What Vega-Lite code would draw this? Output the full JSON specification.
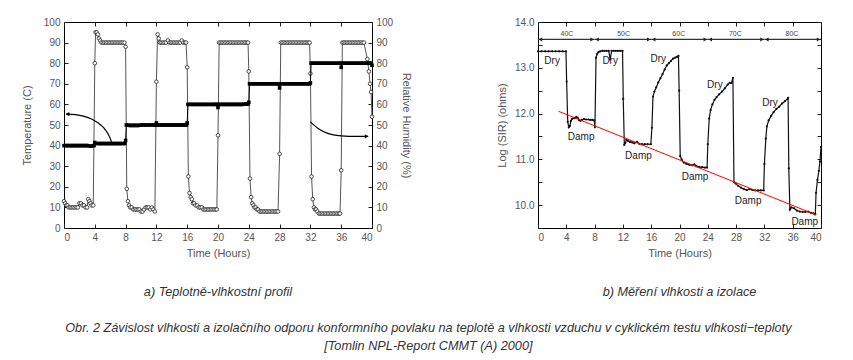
{
  "$schema": "https://vega.github.io/schema/vega-lite/v6.json",
  "autosize": {"type": "pad"},
  "padding": {"left": 20, "top": 16, "right": 5, "bottom": 5},
  "bounds": "flush",
  "spacing": 166,
  "background": "white",
  "title": {
    "text": ["Obr. 2  Závislost vlhkosti a izolačního odporu konformního povlaku na teplotě a vlhkosti vzduchu v cyklickém testu vlhkosti−teploty", "[Tomlin NPL-Report CMMT (A) 2000]"],
    "orient": "bottom", "anchor": "middle", "font": "Liberation Sans", "fontSize": 12.7, "fontStyle": "italic", "fontWeight": "normal", "color": "#333", "offset": 23, "lineHeight": 18, "dx": 6
  },
  "datasets": {
    "humidity": [
      {"t":0,"rh":13},{"t":0.15,"rh":12},{"t":0.3,"rh":11},{"t":0.45,"rh":11},{"t":0.6,"rh":10},{"t":0.8,"rh":10},{"t":1.0,"rh":10},{"t":1.2,"rh":10},{"t":1.4,"rh":10},{"t":1.6,"rh":10},{"t":1.8,"rh":10},{"t":2.0,"rh":12},{"t":2.2,"rh":12},{"t":2.4,"rh":11},{"t":2.6,"rh":11},{"t":2.8,"rh":10},{"t":3.0,"rh":10},{"t":3.15,"rh":14},{"t":3.3,"rh":13},{"t":3.45,"rh":12},{"t":3.6,"rh":11},{"t":3.8,"rh":11},
      {"t":4.0,"rh":80},{"t":4.1,"rh":95},{"t":4.25,"rh":95},{"t":4.4,"rh":94},{"t":4.55,"rh":92},{"t":4.7,"rh":91},{"t":4.85,"rh":90},{"t":5.05,"rh":90},{"t":5.25,"rh":90},{"t":5.45,"rh":90},{"t":5.65,"rh":90},{"t":5.85,"rh":90},{"t":6.05,"rh":90},{"t":6.25,"rh":90},{"t":6.45,"rh":90},{"t":6.65,"rh":90},{"t":6.85,"rh":90},{"t":7.05,"rh":90},{"t":7.25,"rh":90},{"t":7.45,"rh":90},{"t":7.65,"rh":90},{"t":7.85,"rh":90},
      {"t":8.0,"rh":88},{"t":8.15,"rh":19},{"t":8.3,"rh":13},{"t":8.45,"rh":11},{"t":8.6,"rh":10},{"t":8.8,"rh":10},{"t":9.0,"rh":9},{"t":9.2,"rh":9},{"t":9.4,"rh":9},{"t":9.6,"rh":9},{"t":9.8,"rh":9},{"t":10.0,"rh":8},{"t":10.2,"rh":8},{"t":10.4,"rh":9},{"t":10.6,"rh":10},{"t":10.8,"rh":10},{"t":11.0,"rh":10},{"t":11.2,"rh":9},{"t":11.4,"rh":10},{"t":11.6,"rh":9},{"t":11.8,"rh":8},
      {"t":12.0,"rh":71},{"t":12.15,"rh":94},{"t":12.3,"rh":92},{"t":12.45,"rh":90},{"t":12.65,"rh":90},{"t":12.85,"rh":90},{"t":13.05,"rh":90},{"t":13.25,"rh":90},{"t":13.5,"rh":91},{"t":13.7,"rh":90},{"t":13.9,"rh":90},{"t":14.1,"rh":90},{"t":14.3,"rh":90},{"t":14.5,"rh":90},{"t":14.7,"rh":90},{"t":14.9,"rh":90},{"t":15.1,"rh":90},{"t":15.3,"rh":91},{"t":15.5,"rh":90},{"t":15.7,"rh":90},{"t":15.85,"rh":90},
      {"t":16.0,"rh":78},{"t":16.15,"rh":25},{"t":16.3,"rh":17},{"t":16.45,"rh":15},{"t":16.6,"rh":14},{"t":16.75,"rh":12},{"t":16.9,"rh":12},{"t":17.1,"rh":11},{"t":17.3,"rh":11},{"t":17.5,"rh":10},{"t":17.7,"rh":10},{"t":17.9,"rh":10},{"t":18.1,"rh":9},{"t":18.3,"rh":9},{"t":18.5,"rh":9},{"t":18.7,"rh":9},{"t":18.9,"rh":9},{"t":19.1,"rh":9},{"t":19.3,"rh":9},{"t":19.5,"rh":9},{"t":19.7,"rh":9},{"t":19.85,"rh":9},
      {"t":20.0,"rh":45},{"t":20.15,"rh":90},{"t":20.35,"rh":90},{"t":20.55,"rh":90},{"t":20.75,"rh":90},{"t":20.95,"rh":90},{"t":21.15,"rh":90},{"t":21.35,"rh":90},{"t":21.55,"rh":90},{"t":21.75,"rh":90},{"t":21.95,"rh":90},{"t":22.15,"rh":90},{"t":22.35,"rh":90},{"t":22.55,"rh":90},{"t":22.75,"rh":90},{"t":22.95,"rh":90},{"t":23.15,"rh":90},{"t":23.35,"rh":90},{"t":23.55,"rh":90},{"t":23.75,"rh":90},{"t":23.9,"rh":90},
      {"t":24.0,"rh":76},{"t":24.15,"rh":24},{"t":24.3,"rh":15},{"t":24.45,"rh":12},{"t":24.6,"rh":11},{"t":24.75,"rh":10},{"t":24.9,"rh":10},{"t":25.05,"rh":9},{"t":25.2,"rh":9},{"t":25.4,"rh":8},{"t":25.6,"rh":8},{"t":25.8,"rh":8},{"t":26.0,"rh":8},{"t":26.2,"rh":8},{"t":26.4,"rh":8},{"t":26.6,"rh":8},{"t":26.8,"rh":8},{"t":27.0,"rh":8},{"t":27.2,"rh":8},{"t":27.4,"rh":8},{"t":27.6,"rh":8},{"t":27.8,"rh":8},
      {"t":28.0,"rh":36},{"t":28.15,"rh":90},{"t":28.35,"rh":90},{"t":28.55,"rh":90},{"t":28.75,"rh":90},{"t":28.95,"rh":90},{"t":29.15,"rh":90},{"t":29.35,"rh":90},{"t":29.55,"rh":90},{"t":29.75,"rh":90},{"t":29.95,"rh":90},{"t":30.15,"rh":90},{"t":30.35,"rh":90},{"t":30.55,"rh":90},{"t":30.75,"rh":90},{"t":30.95,"rh":90},{"t":31.15,"rh":90},{"t":31.35,"rh":90},{"t":31.55,"rh":90},{"t":31.75,"rh":90},{"t":31.9,"rh":90},
      {"t":32.0,"rh":75},{"t":32.15,"rh":25},{"t":32.3,"rh":14},{"t":32.45,"rh":10},{"t":32.6,"rh":9},{"t":32.75,"rh":9},{"t":32.9,"rh":8},{"t":33.1,"rh":7},{"t":33.3,"rh":7},{"t":33.5,"rh":7},{"t":33.7,"rh":7},{"t":33.9,"rh":7},{"t":34.1,"rh":7},{"t":34.3,"rh":7},{"t":34.5,"rh":7},{"t":34.7,"rh":7},{"t":34.9,"rh":7},{"t":35.1,"rh":7},{"t":35.3,"rh":7},{"t":35.5,"rh":7},{"t":35.7,"rh":7},{"t":35.85,"rh":7},
      {"t":36.0,"rh":28},{"t":36.15,"rh":90},{"t":36.35,"rh":90},{"t":36.55,"rh":90},{"t":36.75,"rh":90},{"t":36.95,"rh":90},{"t":37.15,"rh":90},{"t":37.35,"rh":90},{"t":37.55,"rh":90},{"t":37.75,"rh":90},{"t":37.95,"rh":90},{"t":38.15,"rh":90},{"t":38.35,"rh":90},{"t":38.55,"rh":90},{"t":38.75,"rh":90},{"t":38.95,"rh":90},{"t":39.4,"rh":82},{"t":39.6,"rh":76},{"t":39.75,"rh":70},{"t":39.88,"rh":66},{"t":40.0,"rh":54}
    ],
    "temperature": [
      {"t":0,"temp":40,"seg":"a"},{"t":0.5,"temp":40,"seg":"a"},{"t":1,"temp":40,"seg":"a"},{"t":1.5,"temp":40,"seg":"a"},{"t":2,"temp":40,"seg":"a"},{"t":2.5,"temp":40,"seg":"a"},{"t":3,"temp":40,"seg":"a"},{"t":3.5,"temp":39.7,"seg":"a"},{"t":3.9,"temp":40,"seg":"a"},
      {"t":4.0,"temp":41.5,"seg":"p1"},
      {"t":4.3,"temp":41,"seg":"b"},{"t":4.8,"temp":41,"seg":"b"},{"t":5.3,"temp":41,"seg":"b"},{"t":5.8,"temp":41,"seg":"b"},{"t":6.3,"temp":41,"seg":"b"},{"t":6.8,"temp":41,"seg":"b"},{"t":7.3,"temp":41,"seg":"b"},{"t":7.9,"temp":41,"seg":"b"},
      {"t":8.0,"temp":42.5,"seg":"p2"},
      {"t":8.1,"temp":50,"seg":"c"},{"t":8.6,"temp":49.8,"seg":"c"},{"t":9.1,"temp":49.8,"seg":"c"},{"t":9.6,"temp":49.8,"seg":"c"},{"t":10.1,"temp":50,"seg":"c"},{"t":10.6,"temp":50,"seg":"c"},{"t":11.1,"temp":50,"seg":"c"},{"t":11.6,"temp":50,"seg":"c"},{"t":11.9,"temp":50,"seg":"c"},
      {"t":12.0,"temp":51,"seg":"p3"},
      {"t":12.1,"temp":50,"seg":"c2"},{"t":12.6,"temp":50,"seg":"c2"},{"t":13.1,"temp":50,"seg":"c2"},{"t":13.6,"temp":50,"seg":"c2"},{"t":14.1,"temp":50,"seg":"c2"},{"t":14.6,"temp":50,"seg":"c2"},{"t":15.1,"temp":50,"seg":"c2"},{"t":15.6,"temp":50,"seg":"c2"},{"t":15.9,"temp":50,"seg":"c2"},
      {"t":16.0,"temp":51,"seg":"p4"},
      {"t":16.1,"temp":60,"seg":"d"},{"t":16.6,"temp":60,"seg":"d"},{"t":17.1,"temp":60,"seg":"d"},{"t":17.6,"temp":60,"seg":"d"},{"t":18.1,"temp":60,"seg":"d"},{"t":18.6,"temp":60,"seg":"d"},{"t":19.1,"temp":60,"seg":"d"},{"t":19.6,"temp":60,"seg":"d"},{"t":19.9,"temp":60,"seg":"d"},
      {"t":20.0,"temp":58.5,"seg":"p5"},
      {"t":20.1,"temp":60,"seg":"d2"},{"t":20.6,"temp":60,"seg":"d2"},{"t":21.1,"temp":60,"seg":"d2"},{"t":21.6,"temp":60,"seg":"d2"},{"t":22.1,"temp":60,"seg":"d2"},{"t":22.6,"temp":60,"seg":"d2"},{"t":23.1,"temp":60,"seg":"d2"},{"t":23.6,"temp":60.2,"seg":"d2"},{"t":23.9,"temp":60.2,"seg":"d2"},
      {"t":24.0,"temp":61,"seg":"p6"},
      {"t":24.1,"temp":70,"seg":"e"},{"t":24.6,"temp":70,"seg":"e"},{"t":25.1,"temp":70,"seg":"e"},{"t":25.6,"temp":70,"seg":"e"},{"t":26.1,"temp":70,"seg":"e"},{"t":26.6,"temp":70,"seg":"e"},{"t":27.1,"temp":70,"seg":"e"},{"t":27.6,"temp":70,"seg":"e"},{"t":27.9,"temp":70,"seg":"e"},
      {"t":28.0,"temp":68,"seg":"p7"},
      {"t":28.1,"temp":70,"seg":"e2"},{"t":28.6,"temp":70,"seg":"e2"},{"t":29.1,"temp":70,"seg":"e2"},{"t":29.6,"temp":70,"seg":"e2"},{"t":30.1,"temp":70,"seg":"e2"},{"t":30.6,"temp":70,"seg":"e2"},{"t":31.1,"temp":70,"seg":"e2"},{"t":31.6,"temp":70,"seg":"e2"},{"t":31.9,"temp":70,"seg":"e2"},
      {"t":32.0,"temp":70.5,"seg":"p8"},
      {"t":32.1,"temp":80,"seg":"f"},{"t":32.6,"temp":80,"seg":"f"},{"t":33.1,"temp":80,"seg":"f"},{"t":33.6,"temp":80,"seg":"f"},{"t":34.1,"temp":80,"seg":"f"},{"t":34.6,"temp":80,"seg":"f"},{"t":35.1,"temp":80,"seg":"f"},{"t":35.6,"temp":80,"seg":"f"},{"t":35.9,"temp":80,"seg":"f"},
      {"t":36.0,"temp":78,"seg":"p9"},
      {"t":36.1,"temp":80,"seg":"f2"},{"t":36.6,"temp":80,"seg":"f2"},{"t":37.1,"temp":80,"seg":"f2"},{"t":37.6,"temp":80,"seg":"f2"},{"t":38.1,"temp":80,"seg":"f2"},{"t":38.6,"temp":80,"seg":"f2"},{"t":39.1,"temp":80,"seg":"f2"},{"t":39.6,"temp":80,"seg":"f2"},{"t":39.9,"temp":80,"seg":"f2"},
      {"t":40.0,"temp":79,"seg":"p10"}
    ],
    "curves": [
      {"c":"c1","t":0.3,"v":55.3},{"c":"c1","t":1.5,"v":55.0},{"c":"c1","t":2.5,"v":54.3},{"c":"c1","t":3.5,"v":53.0},{"c":"c1","t":4.5,"v":50.8},{"c":"c1","t":5.2,"v":48.5},{"c":"c1","t":5.7,"v":45.8},{"c":"c1","t":6.0,"v":43.5},{"c":"c1","t":6.2,"v":41.3},
      {"c":"c2","t":32.0,"v":51.5},{"c":"c2","t":33.0,"v":48.3},{"c":"c2","t":34.0,"v":46.3},{"c":"c2","t":35.0,"v":45.2},{"c":"c2","t":36.0,"v":44.7},{"c":"c2","t":37.0,"v":44.5},{"c":"c2","t":38.0,"v":44.5},{"c":"c2","t":39.5,"v":44.5}
    ],
    "curveArrows": [
      {"t":0.45,"v":55.3,"shape":"triangle-left"},
      {"t":39.3,"v":44.5,"shape":"triangle-right"}
    ],
    "sir": [
      {"t":0,"v":13.36},{"t":0.5,"v":13.36},{"t":1,"v":13.36},{"t":1.5,"v":13.36},{"t":2,"v":13.36},{"t":2.5,"v":13.36},{"t":3,"v":13.36},{"t":3.5,"v":13.36},{"t":3.95,"v":13.36},
      {"t":4.05,"v":12.7},{"t":4.2,"v":11.82},{"t":4.35,"v":11.7},{"t":4.5,"v":11.73},{"t":4.65,"v":11.84},{"t":4.8,"v":11.88},{"t":5.0,"v":11.9},{"t":5.2,"v":11.9},{"t":5.4,"v":11.93},{"t":5.6,"v":11.91},{"t":5.8,"v":11.86},{"t":6.0,"v":11.84},{"t":6.2,"v":11.86},{"t":6.5,"v":11.88},{"t":6.8,"v":11.87},{"t":7.1,"v":11.87},{"t":7.4,"v":11.86},{"t":7.7,"v":11.86},{"t":7.95,"v":11.85},
      {"t":8.05,"v":11.7},{"t":8.2,"v":13.22},{"t":8.35,"v":13.3},{"t":8.55,"v":13.34},{"t":8.8,"v":13.36},{"t":9.1,"v":13.37},{"t":9.4,"v":13.37},{"t":9.7,"v":13.37},{"t":10.0,"v":13.37},{"t":10.2,"v":13.18},{"t":10.4,"v":13.37},{"t":10.7,"v":13.37},{"t":11.0,"v":13.37},{"t":11.3,"v":13.37},{"t":11.6,"v":13.37},{"t":11.95,"v":13.37},
      {"t":12.05,"v":12.32},{"t":12.2,"v":11.32},{"t":12.35,"v":11.36},{"t":12.5,"v":11.43},{"t":12.75,"v":11.4},{"t":13.0,"v":11.38},{"t":13.3,"v":11.37},{"t":13.6,"v":11.35},{"t":14.0,"v":11.38},{"t":14.3,"v":11.34},{"t":14.7,"v":11.33},{"t":15.1,"v":11.33},{"t":15.5,"v":11.33},{"t":15.95,"v":11.33},
      {"t":16.1,"v":11.69},{"t":16.25,"v":12.37},{"t":16.45,"v":12.48},{"t":16.7,"v":12.57},{"t":17.0,"v":12.68},{"t":17.3,"v":12.77},{"t":17.6,"v":12.86},{"t":17.9,"v":12.96},{"t":18.2,"v":13.05},{"t":18.5,"v":13.1},{"t":18.8,"v":13.15},{"t":19.1,"v":13.2},{"t":19.4,"v":13.22},{"t":19.65,"v":13.24},{"t":19.85,"v":13.26},
      {"t":19.95,"v":12.5},{"t":20.1,"v":11.07},{"t":20.3,"v":11.0},{"t":20.6,"v":10.93},{"t":21.0,"v":10.9},{"t":21.4,"v":10.88},{"t":21.8,"v":10.87},{"t":22.1,"v":10.89},{"t":22.4,"v":10.85},{"t":22.8,"v":10.83},{"t":23.2,"v":10.83},{"t":23.6,"v":10.82},{"t":23.9,"v":10.82},
      {"t":24.0,"v":11.33},{"t":24.2,"v":11.89},{"t":24.4,"v":12.08},{"t":24.65,"v":12.2},{"t":24.95,"v":12.3},{"t":25.25,"v":12.36},{"t":25.6,"v":12.42},{"t":26.0,"v":12.48},{"t":26.4,"v":12.55},{"t":26.8,"v":12.63},{"t":27.1,"v":12.67},{"t":27.35,"v":12.67},{"t":27.55,"v":12.78},
      {"t":27.7,"v":10.5},{"t":27.95,"v":10.47},{"t":28.3,"v":10.42},{"t":28.7,"v":10.38},{"t":29.1,"v":10.35},{"t":29.5,"v":10.33},{"t":29.9,"v":10.35},{"t":30.3,"v":10.33},{"t":30.7,"v":10.32},{"t":31.1,"v":10.32},{"t":31.5,"v":10.32},{"t":31.9,"v":10.32},
      {"t":32.0,"v":10.9},{"t":32.2,"v":11.45},{"t":32.35,"v":11.72},{"t":32.6,"v":11.85},{"t":32.95,"v":11.95},{"t":33.3,"v":12.03},{"t":33.7,"v":12.1},{"t":34.1,"v":12.15},{"t":34.5,"v":12.22},{"t":34.9,"v":12.27},{"t":35.35,"v":12.34},
      {"t":35.45,"v":10.8},{"t":35.6,"v":9.9},{"t":35.8,"v":9.95},{"t":36.2,"v":9.93},{"t":36.6,"v":9.88},{"t":37.0,"v":9.86},{"t":37.4,"v":9.85},{"t":37.8,"v":9.85},{"t":38.2,"v":9.86},{"t":38.6,"v":9.83},{"t":38.9,"v":9.82},{"t":39.2,"v":9.8},
      {"t":39.3,"v":10.27},{"t":39.5,"v":10.55},{"t":39.7,"v":10.75},{"t":39.85,"v":10.95},{"t":40.0,"v":11.27}
    ],
    "fit": [
      {"t":2.9,"v":12.05},{"t":39.25,"v":9.79}
    ],
    "ranges": [
      {"x0":0,"x1":8,"lx":4.1,"lab":"40C"},
      {"x0":8,"x1":16,"lx":12.1,"lab":"50C"},
      {"x0":16,"x1":24,"lx":19.9,"lab":"60C"},
      {"x0":24,"x1":32,"lx":27.9,"lab":"70C"},
      {"x0":32,"x1":40,"lx":35.9,"lab":"80C"}
    ],
    "rangeArrows": [
      {"t":0.35,"shape":"triangle-left"},{"t":7.65,"shape":"triangle-right"},
      {"t":8.35,"shape":"triangle-left"},{"t":15.65,"shape":"triangle-right"},
      {"t":16.35,"shape":"triangle-left"},{"t":23.65,"shape":"triangle-right"},
      {"t":24.35,"shape":"triangle-left"},{"t":31.65,"shape":"triangle-right"},
      {"t":32.35,"shape":"triangle-left"},{"t":39.65,"shape":"triangle-right"}
    ],
    "notes": [
      {"t":2.0,"v":13.15,"txt":"Dry"},
      {"t":10.2,"v":13.14,"txt":"Dry"},
      {"t":17.0,"v":13.2,"txt":"Dry"},
      {"t":25.0,"v":12.63,"txt":"Dry"},
      {"t":32.8,"v":12.22,"txt":"Dry"},
      {"t":6.1,"v":11.48,"txt":"Damp"},
      {"t":14.2,"v":11.08,"txt":"Damp"},
      {"t":22.2,"v":10.61,"txt":"Damp"},
      {"t":29.7,"v":10.1,"txt":"Damp"},
      {"t":37.7,"v":9.64,"txt":"Damp"}
    ]
  },
  "hconcat": [
    {
      "width": 308,
      "height": 206,
      "title": {"text": "a) Teplotně-vlhkostní profil", "orient": "bottom", "anchor": "middle", "font": "Liberation Sans", "fontSize": 12.7, "fontStyle": "italic", "fontWeight": "normal", "color": "#333", "offset": 28},
      "layer": [
        {
          "data": {"name": "humidity"},
          "mark": {"type": "line", "color": "#555", "strokeWidth": 1, "point": {"filled": false, "fill": "#fff", "stroke": "#222", "strokeWidth": 0.8, "size": 13, "opacity": 1}},
          "encoding": {
            "x": {"field": "t", "type": "quantitative", "scale": {"domain": [0, 40], "nice": false}, "axis": {"orient": "top", "labels": false, "title": null, "values": [0,4,8,12,16,20,24,28,32,36,40]}},
            "y": {"field": "rh", "type": "quantitative", "scale": {"domain": [0, 100], "nice": false}, "axis": {"orient": "right", "title": "Relative Humidity (%)", "values": [0,10,20,30,40,50,60,70,80,90,100], "titlePadding": 8}}
          }
        },
        {
          "data": {"name": "temperature"},
          "mark": {"type": "line", "color": "#000", "strokeWidth": 1},
          "encoding": {
            "x": {"field": "t", "type": "quantitative", "scale": {"domain": [0, 40], "nice": false}, "axis": {"orient": "bottom", "title": "Time (Hours)", "values": [0,4,8,12,16,20,24,28,32,36,40], "titlePadding": 5}},
            "y": {"field": "temp", "type": "quantitative", "scale": {"domain": [0, 100], "nice": false}, "axis": {"orient": "left", "title": "Temperature (C)", "values": [0,10,20,30,40,50,60,70,80,90,100], "titlePadding": 11}}
          }
        },
        {
          "data": {"name": "temperature"},
          "mark": {"type": "line", "color": "#000", "strokeWidth": 3.6},
          "encoding": {
            "x": {"field": "t", "type": "quantitative", "scale": {"domain": [0, 40], "nice": false}, "axis": null},
            "y": {"field": "temp", "type": "quantitative", "scale": {"domain": [0, 100], "nice": false}, "axis": null},
            "detail": {"field": "seg", "type": "nominal"}
          }
        },
        {
          "data": {"name": "temperature"},
          "mark": {"type": "point", "shape": "square", "filled": true, "color": "#000", "size": 13, "opacity": 1},
          "encoding": {
            "x": {"field": "t", "type": "quantitative", "scale": {"domain": [0, 40], "nice": false}, "axis": null},
            "y": {"field": "temp", "type": "quantitative", "scale": {"domain": [0, 100], "nice": false}, "axis": null}
          }
        },
        {
          "data": {"name": "curves"},
          "mark": {"type": "line", "color": "#000", "strokeWidth": 1.2, "interpolate": "monotone"},
          "encoding": {
            "x": {"field": "t", "type": "quantitative", "scale": {"domain": [0, 40], "nice": false}, "axis": null},
            "y": {"field": "v", "type": "quantitative", "scale": {"domain": [0, 100], "nice": false}, "axis": null},
            "detail": {"field": "c", "type": "nominal"}
          }
        },
        {
          "data": {"name": "curveArrows"},
          "mark": {"type": "point", "filled": true, "color": "#000", "size": 18, "opacity": 1},
          "encoding": {
            "x": {"field": "t", "type": "quantitative", "scale": {"domain": [0, 40], "nice": false}, "axis": null},
            "y": {"field": "v", "type": "quantitative", "scale": {"domain": [0, 100], "nice": false}, "axis": null},
            "shape": {"field": "shape", "type": "nominal", "scale": null}
          }
        }
      ],
      "resolve": {"scale": {"y": "independent"}, "axis": {"x": "independent", "y": "independent"}}
    },
    {
      "width": 283,
      "height": 206,
      "title": {"text": "b) Měření vlhkosti a izolace", "orient": "bottom", "anchor": "middle", "font": "Liberation Sans", "fontSize": 12.7, "fontStyle": "italic", "fontWeight": "normal", "color": "#333", "offset": 28},
      "layer": [
        {
          "data": {"name": "sir"},
          "mark": {"type": "line", "color": "#111", "strokeWidth": 1.2, "point": {"filled": true, "color": "#111", "size": 5, "opacity": 1}},
          "encoding": {
            "x": {"field": "t", "type": "quantitative", "scale": {"domain": [0, 40], "nice": false}, "axis": {"orient": "bottom", "title": "Time (Hours)", "values": [0,4,8,12,16,20,24,28,32,36,40], "titlePadding": 5}},
            "y": {"field": "v", "type": "quantitative", "scale": {"domain": [9.5, 14], "nice": false, "zero": false}, "axis": {"orient": "left", "title": "Log (SIR) (ohms)", "values": [9.5,10,10.5,11,11.5,12,12.5,13,13.5,14], "labelExpr": "datum.value % 1 === 0 ? datum.label : ''", "titlePadding": 7}}
          }
        },
        {
          "data": {"name": "fit"},
          "mark": {"type": "line", "color": "#ff0000", "strokeWidth": 1},
          "encoding": {
            "x": {"field": "t", "type": "quantitative", "axis": {"orient": "top", "labels": false, "title": null, "values": [0,4,8,12,16,20,24,28,32,36,40]}},
            "y": {"field": "v", "type": "quantitative", "axis": {"orient": "right", "labels": false, "title": null, "values": [9.5,10,10.5,11,11.5,12,12.5,13,13.5,14]}}
          }
        },
        {
          "data": {"name": "ranges"},
          "mark": {"type": "rule", "color": "#333", "strokeWidth": 1.2},
          "encoding": {
            "x": {"field": "x0", "type": "quantitative", "axis": null},
            "x2": {"field": "x1"},
            "y": {"datum": 13.62, "type": "quantitative", "axis": null}
          }
        },
        {
          "data": {"name": "rangeArrows"},
          "mark": {"type": "point", "filled": true, "color": "#222", "size": 16, "opacity": 1},
          "encoding": {
            "x": {"field": "t", "type": "quantitative", "axis": null},
            "y": {"datum": 13.62, "type": "quantitative", "axis": null},
            "shape": {"field": "shape", "type": "nominal", "scale": null}
          }
        },
        {
          "data": {"name": "ranges"},
          "mark": {"type": "text", "font": "Liberation Sans", "fontSize": 7, "color": "#444", "baseline": "middle", "align": "center"},
          "encoding": {
            "x": {"field": "lx", "type": "quantitative", "axis": null},
            "y": {"datum": 13.74, "type": "quantitative", "axis": null},
            "text": {"field": "lab"}
          }
        },
        {
          "data": {"name": "notes"},
          "mark": {"type": "text", "font": "Liberation Sans", "fontSize": 10, "color": "#222", "baseline": "middle", "align": "center"},
          "encoding": {
            "x": {"field": "t", "type": "quantitative", "axis": null},
            "y": {"field": "v", "type": "quantitative", "axis": null},
            "text": {"field": "txt"}
          }
        }
      ],
      "resolve": {"axis": {"x": "independent", "y": "independent"}}
    }
  ],
  "config": {
    "font": "Liberation Sans",
    "view": {"stroke": "#000", "strokeWidth": 1},
    "axis": {
      "labelFont": "Liberation Sans", "labelFontSize": 10, "labelColor": "#555",
      "titleFont": "Liberation Sans", "titleFontSize": 11, "titleFontWeight": "normal", "titleColor": "#555",
      "tickColor": "#222", "tickSize": -4, "labelPadding": 8, "domain": false, "grid": false
    }
  }
}
